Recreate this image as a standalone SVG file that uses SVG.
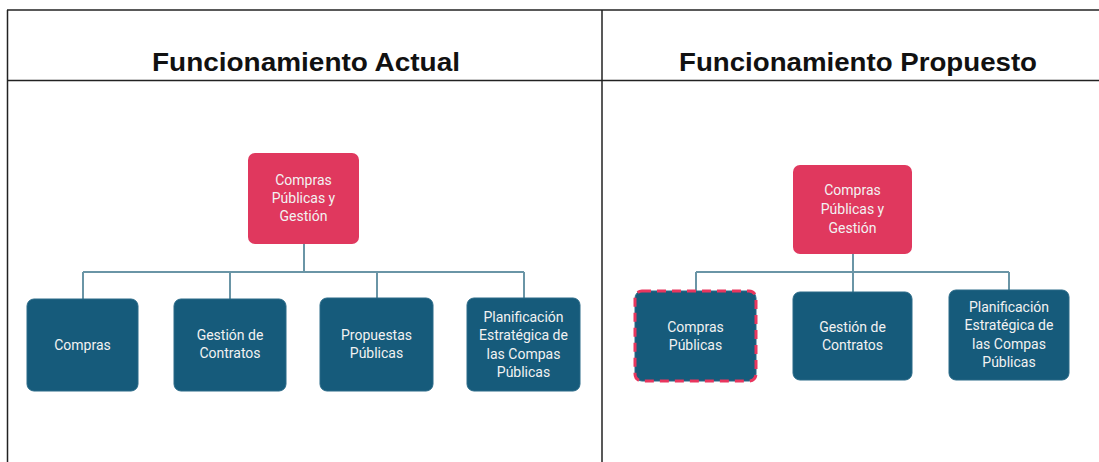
<svg xmlns="http://www.w3.org/2000/svg" width="1099" height="462" viewBox="0 0 1099 462">
<style>
.frame{stroke:#222;stroke-width:1.5;fill:none}
.title{font-family:"Liberation Sans",Arial,sans-serif;font-weight:bold;font-size:25px;fill:#111;text-anchor:middle}
.pink{fill:#E0385E}
.blue{fill:#165B7B;stroke:#2a6a88;stroke-width:1}
.lbl{font-family:Roboto,"Liberation Sans",Arial,sans-serif;font-size:14px;fill:#f2f2f2;text-anchor:middle}
.conn{stroke:#6A95A6;stroke-width:2;fill:none}
.dash{fill:none;stroke:#E8365E;stroke-width:3;stroke-dasharray:9 6}
</style>
<rect width="1099" height="462" fill="#fff"/>
<g id="table">
<line class="frame" x1="7" y1="10" x2="1099" y2="10"/>
<line class="frame" x1="7" y1="80.5" x2="1099" y2="80.5"/>
<line class="frame" x1="7.5" y1="10" x2="7.5" y2="462"/>
<line class="frame" x1="602" y1="10" x2="602" y2="462"/>
<text class="title" x="306" y="71" textLength="308" lengthAdjust="spacingAndGlyphs">Funcionamiento Actual</text>
<text class="title" x="858" y="71" textLength="358" lengthAdjust="spacingAndGlyphs">Funcionamiento Propuesto</text>
</g>
<g id="connectors">
<path class="conn" d="M304 244V272M83 272H524M83 272V299M230 272V299M377 272V298M524 272V298"/>
<path class="conn" d="M853 254V292M696 272H1009M696 272V291M1009 272V290"/>
</g>
<g id="l-root"><rect class="pink" x="248" y="153" width="111" height="91" rx="7"/>
<text class="lbl" x="303.5" y="185">Compras</text><text class="lbl" x="303.5" y="203">Públicas y</text><text class="lbl" x="303.5" y="221">Gestión</text></g>
<g id="l-compras"><rect class="blue" x="27" y="299" width="111" height="92" rx="7"/>
<text class="lbl" x="82.5" y="350">Compras</text></g>
<g id="l-gestion"><rect class="blue" x="174" y="299" width="112" height="92" rx="7"/>
<text class="lbl" x="230" y="340">Gestión de</text><text class="lbl" x="230" y="358">Contratos</text></g>
<g id="l-propuestas"><rect class="blue" x="320" y="298" width="113" height="93" rx="7"/>
<text class="lbl" x="376.5" y="340">Propuestas</text><text class="lbl" x="376.5" y="358">Públicas</text></g>
<g id="l-planif"><rect class="blue" x="467" y="298" width="113" height="93" rx="7"/>
<text class="lbl" x="523.5" y="322">Planificación</text><text class="lbl" x="523.5" y="340">Estratégica de</text><text class="lbl" x="523.5" y="359">las Compas</text><text class="lbl" x="523.5" y="377">Públicas</text></g>
<g id="r-root"><rect class="pink" x="793" y="165" width="119" height="89" rx="7"/>
<text class="lbl" x="852.5" y="195">Compras</text><text class="lbl" x="852.5" y="214">Públicas y</text><text class="lbl" x="852.5" y="233">Gestión</text></g>
<g id="r-compras"><rect class="blue" x="635" y="291" width="121" height="90" rx="7" stroke="none"/><rect class="dash" x="635" y="291" width="121" height="90" rx="7"/>
<text class="lbl" x="695.5" y="332">Compras</text><text class="lbl" x="695.5" y="350">Públicas</text></g>
<g id="r-gestion"><rect class="blue" x="793" y="292" width="119" height="88" rx="7"/>
<text class="lbl" x="852.5" y="332">Gestión de</text><text class="lbl" x="852.5" y="350">Contratos</text></g>
<g id="r-planif"><rect class="blue" x="949" y="290" width="120" height="90" rx="7"/>
<text class="lbl" x="1009" y="312">Planificación</text><text class="lbl" x="1009" y="330">Estratégica de</text><text class="lbl" x="1009" y="349">las Compas</text><text class="lbl" x="1009" y="367">Públicas</text></g>
</svg>
